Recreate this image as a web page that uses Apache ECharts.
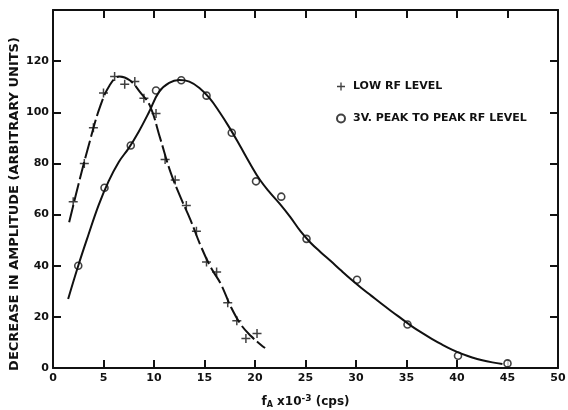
<!DOCTYPE html>
<html>
<head>
  <meta charset="utf-8">
  <title>Decrease in amplitude</title>
  <script src="https://cdn.jsdelivr.net/npm/echarts@6/dist/echarts.min.js"></script>
</head>
<body style="margin: 0; width: 568px; height: 410px; background: #fff;">
  <div id="container" style="width: 568px; height: 410px;"></div>
  <script type="text/javascript">
    // measured points, low RF level (+)
    var lowX = [2, 3.1, 4, 5, 6.1, 7.1, 8.1, 9, 10.2, 11.1, 12.1, 13.2, 14.2, 15.2, 16.2, 17.3, 18.2, 19.1, 20.2];
    var lowY = [65, 80, 94, 107.5, 114, 111, 112, 105.5, 99.5, 81.5, 73.5, 63.5, 53.5, 41.5, 37.5, 25.5, 18.5, 11.5, 13.5];
    // fitted curve through the + points
    var lowCurveX = [1.6, 2.6, 3.6, 4.6, 5.6, 6.6, 7.6, 8.6, 9.6, 10.6, 11.6, 12.6, 13.6, 14.6, 15.6, 16.6, 17.6, 18.6, 19.6, 20.6, 21];
    var lowCurveY = [57, 73, 88, 101.5, 110.5, 114, 112.5, 108, 102.5, 90, 77, 67, 58, 48, 39.5, 33, 24, 17, 12.5, 9, 7.8];

    // measured points, 3V peak to peak (o)
    var peakX = [2.5, 5.1, 7.7, 10.2, 12.7, 15.2, 17.7, 20.1, 22.6, 25.1, 30.1, 35.1, 40.1, 45];
    var peakY = [40, 70.5, 87, 108.5, 112.5, 106.5, 92, 73, 67, 50.5, 34.5, 17, 4.8, 1.8];
    // fitted curve through the o points
    var peakCurveX = [1.5, 2.5, 3.5, 4.5, 5.5, 6.5, 7.5, 8.5, 9.5, 10.5, 11.5, 12.5, 13.5, 14.5, 15.5, 16.5, 17.5, 18.5, 19.5, 20.5,
      21.5, 22.5, 23.5, 24.5, 25.5, 26.5, 27.5, 28.5, 29.5, 30.5, 31.5, 32.5, 33.5, 34.5, 35.5, 36.5, 37.5, 38.5, 39.5, 40.5,
      41.5, 42.5, 43.5, 44.5];
    var peakCurveY = [27, 40, 52, 63.5, 73, 80.5, 86, 92.5, 100, 108, 111.5, 112.6, 112, 109.5, 105.5, 100, 93.8, 87, 80, 73.5,
      68.5, 64, 59, 53.5, 49, 45.3, 41.8, 38.2, 34.7, 31.4, 28.3, 25.2, 22.2, 19.3, 16.4, 13.8, 11.4, 9.2, 7.2, 5.5,
      4.1, 3, 2.2, 1.6];

    var xTicks = { min: 0, max: 50, interval: 5 };
    var yTicks = { min: 0, max: 140, interval: 20 };

    function pairs(xs, ys) {
      return xs.map(function (x, i) { return [x, ys[i]]; });
    }

    var font = 'DejaVu Sans';
    var plus = 'path://M4,0h1.6v4h4v1.6h-4v4h-1.6v-4h-4v-1.6h4z';

    var chart = echarts.init(document.getElementById('container'), null, { renderer: 'canvas' });

    var baseAxis = {
      type: 'value',
      axisLine: { show: true, onZero: false, lineStyle: { color: '#111', width: 2 } },
      axisTick: { show: true, inside: true, length: 8, lineStyle: { color: '#111', width: 2 } },
      splitLine: { show: false }
    };

    var option = {
      animation: false,
      backgroundColor: '#fff',
      grid: { left: 53, right: 10, top: 10, bottom: 42, outerBoundsMode: 'none', containLabel: false },
      legend: {
        orient: 'vertical',
        left: 331,
        top: 76,
        itemGap: 21,
        itemWidth: 8,
        itemHeight: 8,
        data: [
          { name: 'LOW RF LEVEL', icon: plus },
          { name: '3V. PEAK TO PEAK RF LEVEL', icon: 'circle' }
        ],
        textStyle: { fontFamily: font, fontWeight: 'bold', fontSize: 11, color: '#111', padding: [0, 0, 0, 3] }
      },
      xAxis: [
        Object.assign({}, baseAxis, {
          min: xTicks.min, max: xTicks.max, interval: xTicks.interval,
          position: 'bottom',
          axisLabel: { margin: 5, fontFamily: font, fontWeight: 'bold', fontSize: 11, color: '#111' },
          name: '{t|f}{s|A}{t| x10}{p|-3}{t| (cps)}',
          nameLocation: 'middle',
          nameGap: 26,
          nameMoveOverlap: false,
          nameTextStyle: {
            rich: {
              t: { fontFamily: font, fontWeight: 'bold', fontSize: 12, color: '#111' },
              s: { fontFamily: font, fontWeight: 'bold', fontSize: 8, color: '#111', verticalAlign: 'bottom', padding: [4, 0, 0, 0] },
              p: { fontFamily: font, fontWeight: 'bold', fontSize: 9, color: '#111', verticalAlign: 'top', padding: [0, 0, 6, 0] }
            }
          }
        }),
        Object.assign({}, baseAxis, {
          min: xTicks.min, max: xTicks.max, interval: xTicks.interval,
          position: 'top',
          axisLabel: { show: false }
        })
      ],
      yAxis: [
        Object.assign({}, baseAxis, {
          min: yTicks.min, max: yTicks.max, interval: yTicks.interval,
          position: 'left',
          axisLabel: {
            margin: 4, fontFamily: font, fontWeight: 'bold', fontSize: 11, color: '#111',
            formatter: function (v) { return v === 140 ? '' : String(v); }
          },
          name: 'DECREASE IN AMPLITUDE (ARBITRARY UNITS)',
          nameLocation: 'middle',
          nameRotate: 90,
          nameGap: 32,
          nameMoveOverlap: false,
          nameTextStyle: { fontFamily: font, fontWeight: 'bold', fontSize: 13, color: '#111', padding: [0, 30, 0, 0] }
        }),
        Object.assign({}, baseAxis, {
          min: yTicks.min, max: yTicks.max, interval: yTicks.interval,
          position: 'right',
          axisLabel: { show: false }
        })
      ],
      series: [
        {
          type: 'line',
          smooth: 0.4,
          showSymbol: false,
          silent: true,
          data: pairs(lowCurveX, lowCurveY),
          lineStyle: { color: '#111', width: 2, type: [18, 4] }
        },
        {
          type: 'line',
          smooth: 0.4,
          showSymbol: false,
          silent: true,
          data: pairs(peakCurveX, peakCurveY),
          lineStyle: { color: '#111', width: 2 }
        },
        {
          name: 'LOW RF LEVEL',
          type: 'scatter',
          symbol: plus,
          symbolSize: 9,
          itemStyle: { color: '#111' },
          data: pairs(lowX, lowY)
        },
        {
          name: '3V. PEAK TO PEAK RF LEVEL',
          type: 'scatter',
          symbol: 'circle',
          symbolSize: 7,
          itemStyle: { color: '#fff', borderColor: '#111', borderWidth: 1.6 },
          data: pairs(peakX, peakY)
        }
      ]
    };

    chart.setOption(option);
    window.addEventListener('resize', chart.resize);
  </script>
</body>
</html>
